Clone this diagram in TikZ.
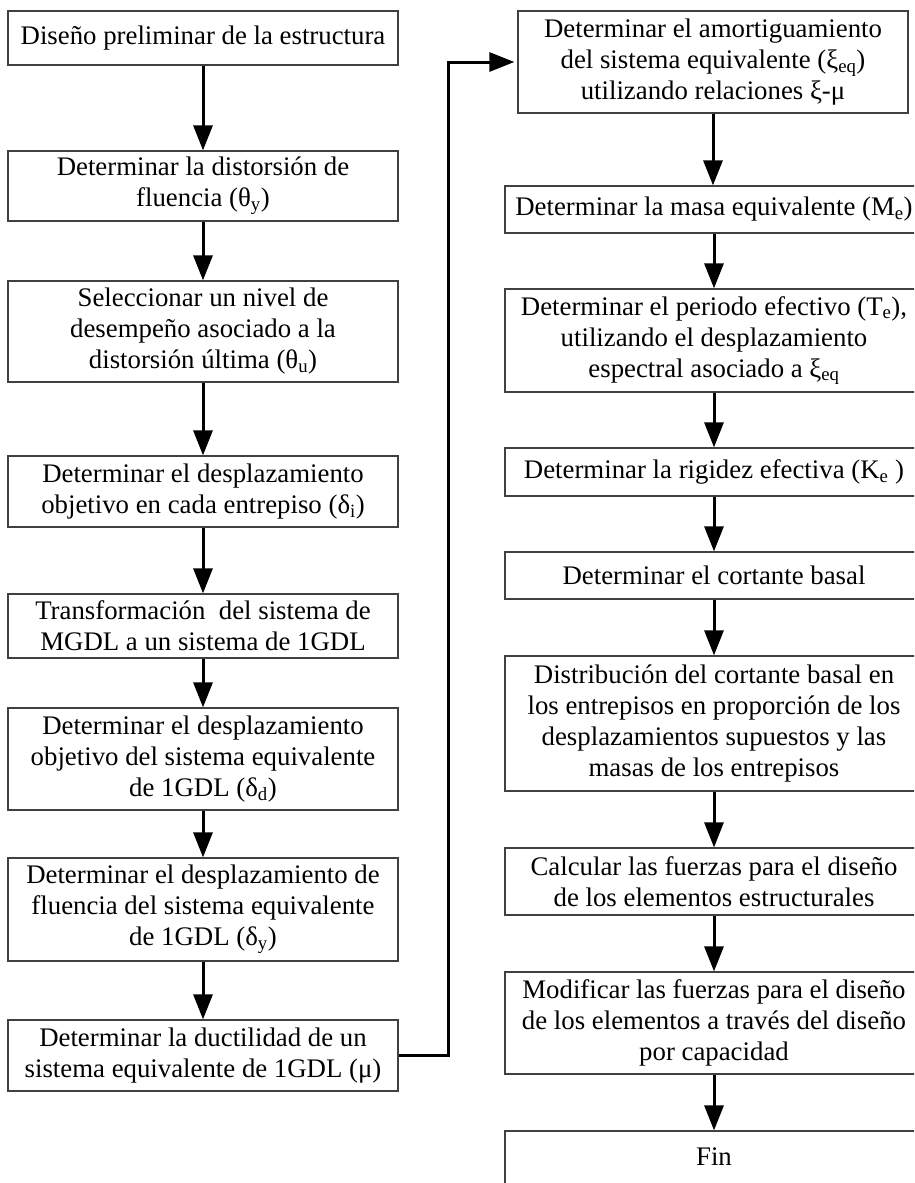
\documentclass[tikz,border=0pt]{standalone}
\usepackage{fontspec}
\setmainfont{Liberation Serif}
\usetikzlibrary{arrows.meta}
\newcommand{\sbs}[1]{\textsubscript{#1}}
\tikzset{
  box/.style={draw=black!75, line width=1.2pt, align=center, inner sep=0pt,
    font=\fontsize{26.8}{31}\selectfont},
  lbox/.style={box, minimum width=390pt},
  wbox/.style={box, minimum width=418pt},
  flow/.style={line width=3pt, -{Triangle[length=25pt,width=19pt]}},
}
\begin{document}
\begin{tikzpicture}[x=1pt,y=-1pt]
\clip (0,0) rectangle (914,1183);
\fill[white] (0,0) rectangle (914,1183);
% left column
\node[lbox, minimum height=54pt] (l1) at (203,38) {Diseño preliminar de la estructura};
\node[lbox, minimum height=70pt] (l2) at (203,186) {Determinar la distorsión de\\fluencia (θ\sbs{y})};
\node[lbox, minimum height=101pt] (l3) at (203,331.5) {Seleccionar un nivel de\\desempeño asociado a la\\distorsión última (θ\sbs{u})};
\node[lbox, minimum height=71pt] (l4) at (203,491.5) {Determinar el desplazamiento\\objetivo en cada entrepiso (δ\sbs{i})};
\node[lbox, minimum height=64pt] (l5) at (203,626) {Transformación\ \ del sistema de\\MGDL a un sistema de 1GDL};
\node[lbox, minimum height=102pt] (l6) at (203,759) {Determinar el desplazamiento\\objetivo del sistema equivalente\\de 1GDL (δ\sbs{d})};
\node[lbox, minimum height=103pt] (l7) at (203,909.5) {Determinar el desplazamiento de\\fluencia del sistema equivalente\\de 1GDL (δ\sbs{y})};
\node[lbox, minimum height=71pt] (l8) at (203,1055.5) {Determinar la ductilidad de un\\sistema equivalente de 1GDL (μ)};
% right column
\node[lbox, minimum height=102pt] (r1) at (713,62) {Determinar el amortiguamiento\\del sistema equivalente (ξ\sbs{eq})\\utilizando relaciones ξ-μ};
\node[wbox, minimum height=47pt] (r2) at (714,209.5) {Determinar la masa equivalente (M\sbs{e})};
\node[wbox, minimum height=103pt] (r3) at (714,340.5) {Determinar el periodo efectivo (T\sbs{e}),\\utilizando el desplazamiento\\espectral asociado a ξ\sbs{eq}};
\node[wbox, minimum height=48pt] (r4) at (714,472) {Determinar la rigidez efectiva (K\sbs{e} )};
\node[wbox, minimum height=47pt] (r5) at (714,575.5) {Determinar el cortante basal};
\node[wbox, minimum height=135pt] (r6) at (714,723.5) {Distribución del cortante basal en\\los entrepisos en proporción de los\\desplazamientos supuestos y las\\masas de los entrepisos};
\node[wbox, minimum height=67pt] (r7) at (714,881.5) {Calcular las fuerzas para el diseño\\de los elementos estructurales};
\node[wbox, minimum height=102pt] (r8) at (714,1023) {Modificar las fuerzas para el diseño\\de los elementos a través del diseño\\por capacidad};
\node[wbox, minimum height=58pt, text depth=7pt] (r9) at (714,1160) {Fin};
% connectors
\foreach \a/\b in {l1/l2,l2/l3,l3/l4,l4/l5,l5/l6,l6/l7,l7/l8}
  \draw[flow] (\a.south) -- (\b.north);
\foreach \a/\b in {r2/r3,r3/r4,r4/r5,r5/r6,r6/r7,r7/r8,r8/r9}
  \draw[flow] (\a.south) -- (\b.north);
\draw[flow] (r1.south) -- (r1.south |- r2.north);
\coordinate (jx) at (448,0);
\draw[flow] (l8.east) -- (l8.east -| jx) -- (r1.west -| jx) -- ([xshift=-3pt]r1.west);
\end{tikzpicture}
\end{document}
